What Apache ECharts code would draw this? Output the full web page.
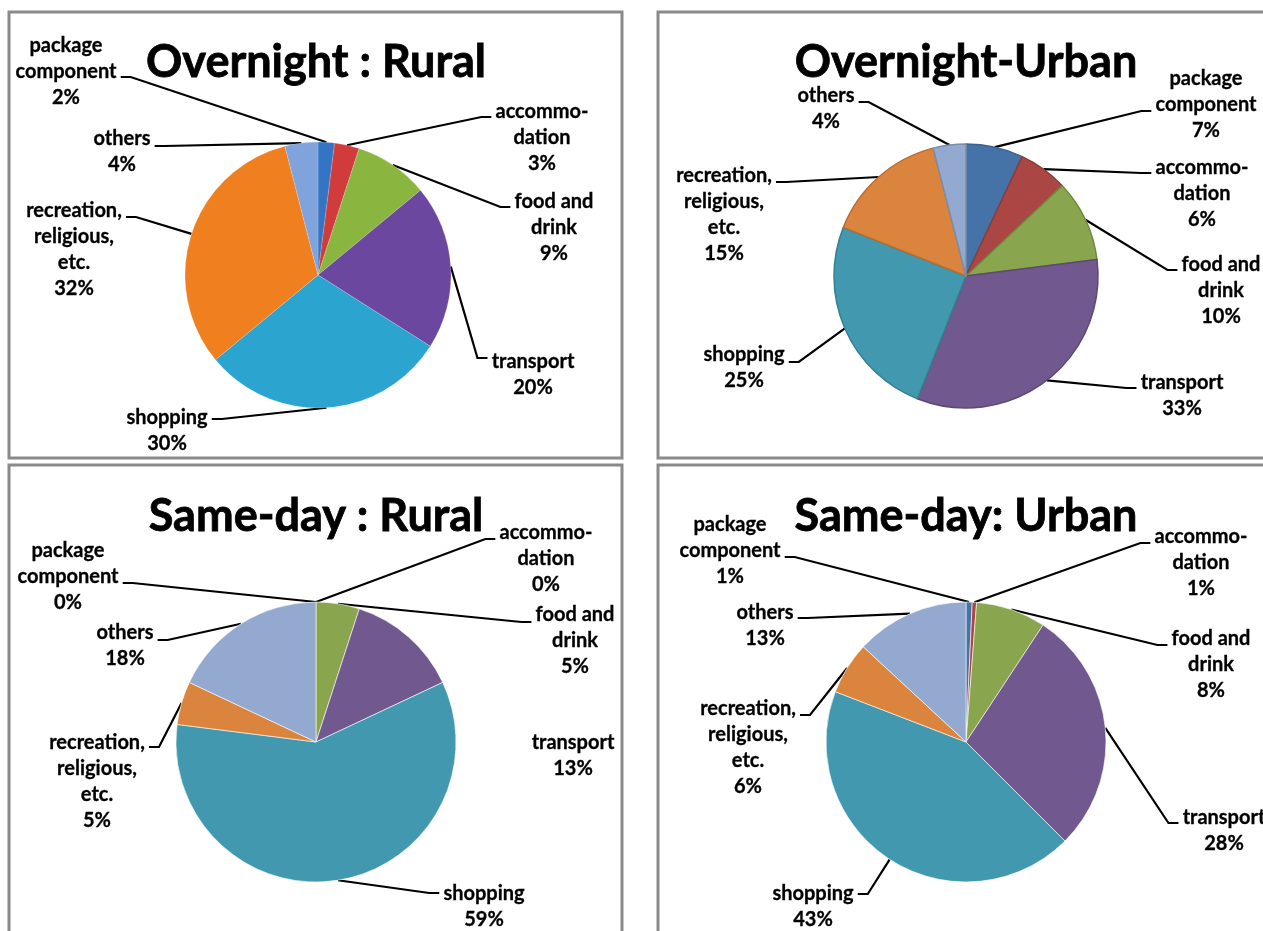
<!DOCTYPE html>
<html>
<head>
<meta charset="utf-8">
<script src="https://cdn.jsdelivr.net/npm/echarts@6/dist/echarts.min.js"></script>
<style>
  html, body { margin: 0; padding: 0; background: #ffffff; }
  #chart { width: 1263px; height: 931px; }
</style>
</head>
<body>
<div id="chart"></div>
<script>
// ---------- data ----------
var categories = ['package\ncomponent', 'accommo-\ndation', 'food and\ndrink', 'transport', 'shopping', 'recreation,\nreligious,\netc.', 'others'];
var titles = ['Overnight : Rural', 'Overnight-Urban', 'Same-day : Rural', 'Same-day: Urban'];
var overnightRural = [2, 3, 9, 20, 30, 32, 4];
var overnightUrban = [7, 6, 10, 33, 25, 15, 4];
var sameDayRural  = [0, 0, 5, 13, 59, 5, 18];
var sameDayUrban  = [0.7, 0.5, 8, 28, 43, 6, 13];

// ---------- layout / style (not data) ----------
var panels = [
  { x: 9,   y: 12,  w: 613, h: 446 },
  { x: 658, y: 12,  w: 620, h: 446 },
  { x: 9,   y: 465, w: 613, h: 480 },
  { x: 658, y: 465, w: 620, h: 480 }
];
var pieCenters = [[318, 275], [966, 276], [316, 742], [966, 742]];
var pieRadius = [133, 132, 140, 140];
var titlePos = [[316, 62], [966, 62], [316, 516], [966, 516]];
// label block centre x, centre y, leader-line stub y (null = no leader line)
var labelSpots = [
  [[66, 72, 77], [542, 138, 117], [554, 228, 207], [533, 375, 358], [167, 431, 419], [74, 250, 217], [122, 152, 146]],
  [[1206, 105, 111], [1202, 194, 173], [1221, 291, 270], [1182, 396, 388], [744, 368, 362], [724, 215, 182], [826, 109, 102]],
  [[68, 577, 583], [546, 559, 539], [575, 641, 622], [573, 756, null], [484, 907, 893], [97, 782, 747], [125, 646, 640]],
  [[730, 551, 557], [1201, 563, 543], [1211, 665, 645], [1224, 831, 823], [813, 907, 894], [748, 748, 715], [765, 626, 618]]
];
var brightColors = ['#3474c4', '#d03b3b', '#8ab63f', '#6c479f', '#2ba5cf', '#f0801f', '#7fa3da'];
var excelColors  = ['#4572A7', '#AA4643', '#89A54E', '#71588F', '#4198AF', '#DB843D', '#93A9CF'];
var excelEdges   = ['#3b6190', '#8f3b38', '#718a40', '#5d4876', '#357f91', '#b86d32', '#7b8dae'];

var seriesValues = [overnightRural, overnightUrban, sameDayRural, sameDayUrban];
var FONT = 'Lato, "Open Sans", sans-serif';

function buildData(si) {
  var vals = seriesValues[si];
  return vals.map(function (v, i) {
    var style;
    if (si === 0) style = { color: brightColors[i], borderColor: 'rgba(255,255,255,0.35)', borderWidth: 0.5 };
    else if (si === 1) style = { color: excelColors[i], borderColor: excelEdges[i], borderWidth: 1.5 };
    else style = { color: excelColors[i], borderColor: '#ffffff', borderWidth: 0.6 };
    return {
      name: categories[i],
      value: v,
      itemStyle: style,
      labelLine: { show: labelSpots[si][i][2] != null }
    };
  });
}

var series = seriesValues.map(function (vals, si) {
  return {
    type: 'pie',
    center: pieCenters[si],
    radius: pieRadius[si],
    startAngle: 90,
    clockwise: true,
    avoidLabelOverlap: false,
    animation: false,
    silent: true,
    data: buildData(si),
    label: {
      show: true,
      position: 'outside',
      color: '#000',
      fontFamily: FONT,
      fontWeight: 'bold',
      fontSize: 20,
      lineHeight: 26,
      align: 'center',
      textBorderColor: '#000',
      textBorderWidth: 0.3,
      formatter: function (p) { return p.name + '\n' + Math.round(p.percent) + '%'; }
    },
    labelLine: {
      show: true,
      length: 10,
      length2: 10,
      smooth: false,
      lineStyle: { color: '#000', width: 2.2 }
    },
    labelLayout: function (p) {
      var spot = labelSpots[p.seriesIndex][p.dataIndex];
      var res = { x: spot[0], y: spot[1], align: 'center', verticalAlign: 'middle' };
      var pts = p.labelLinePoints;
      if (spot[2] != null && pts) {
        var w = p.labelRect.width;
        var onRight = spot[0] > pieCenters[p.seriesIndex][0];
        var sx = onRight ? spot[0] - w / 2 - 4 : spot[0] + w / 2 + 4;
        var bx = onRight ? sx - 10 : sx + 10;
        res.labelLinePoints = [pts[0], [bx, spot[2]], [sx, spot[2]]];
      }
      return res;
    }
  };
});

var graphics = [];
panels.forEach(function (pn) {
  graphics.push({
    type: 'rect', silent: true, z: 0,
    shape: { x: pn.x, y: pn.y, width: pn.w, height: pn.h },
    style: { fill: '#ffffff', stroke: '#8a8a8a', lineWidth: 3 }
  });
});
titles.forEach(function (t, i) {
  graphics.push({
    type: 'text', silent: true, z: 10,
    x: titlePos[i][0], y: titlePos[i][1],
    style: {
      text: t, fill: '#000', align: 'center', verticalAlign: 'middle',
      font: 'bold 45px ' + FONT,
      stroke: '#000', lineWidth: 0.8
    }
  });
});

var chart = echarts.init(document.getElementById('chart'), null, { renderer: 'canvas' });
chart.setOption({
  backgroundColor: '#ffffff',
  animation: false,
  graphic: { elements: graphics },
  series: series
});
</script>
</body>
</html>
